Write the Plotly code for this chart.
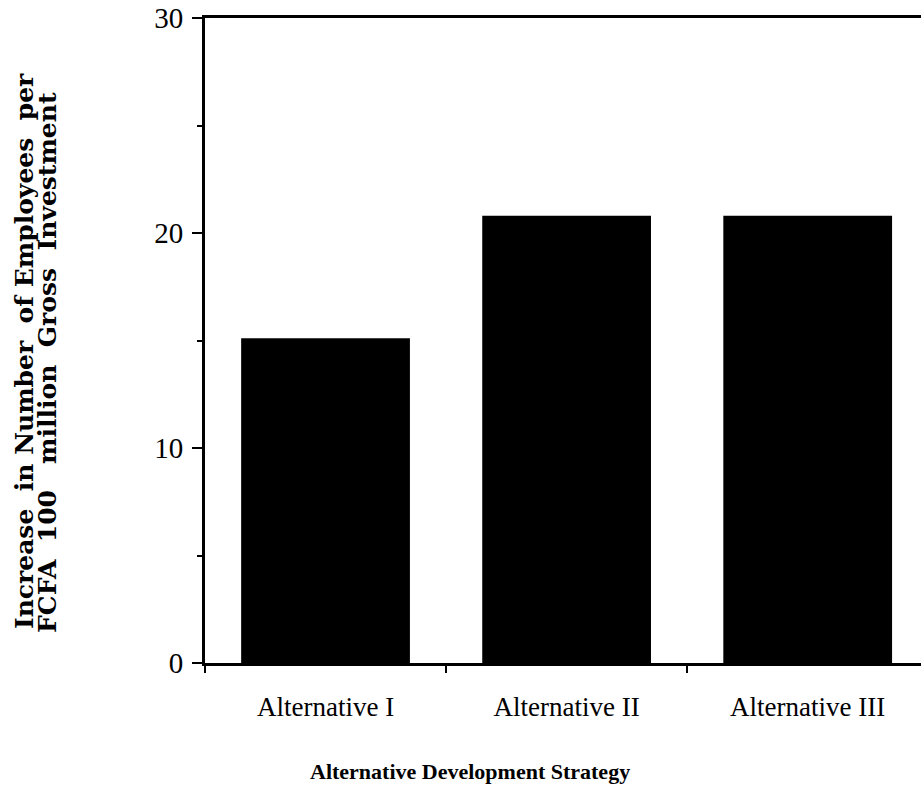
import plotly.graph_objects as go

categories = ["Alternative I", "Alternative II", "Alternative III"]
values = [15.1, 20.8, 20.8]
y_ticks = [0, 10, 20, 30]

W, H = 921, 794
L, R, T, B = 205, 921, 18, 663

def px_x(px):
    return (px - L) / (R - L)

def px_y(py):
    return (B - py) / (B - T)

fig = go.Figure()
fig.add_trace(go.Bar(x=categories, y=values, marker=dict(color="black", line=dict(width=0)),
                     width=0.7))

fig.update_layout(
    width=W, height=H,
    margin=dict(l=L, r=W - R, t=T, b=H - B, autoexpand=False),
    plot_bgcolor="white", paper_bgcolor="white",
    showlegend=False,
    font=dict(family="Liberation Serif", color="black", size=20),
)
fig.update_xaxes(
    range=[-0.5, 2.47], automargin=False,
    showline=True, linecolor="black", linewidth=3, mirror=True,
    ticks="outside", tickson="boundaries", ticklen=7, tickwidth=2, tickcolor="black",
    ticklabelstandoff=18,
    tickfont=dict(family="Liberation Serif", size=27),
    showgrid=False, zeroline=False,
)
fig.update_yaxes(
    range=[0, 30], automargin=False, tickvals=y_ticks, ticktext=[str(v) for v in y_ticks],
    showline=True, linecolor="black", linewidth=3,
    ticks="outside", ticklen=10, tickwidth=2, tickcolor="black",
    minor=dict(dtick=5, ticks="outside", ticklen=5, tickwidth=2, tickcolor="black", showgrid=False),
    ticklabelstandoff=3, ticklabeloverflow="allow",
    tickfont=dict(family="Liberation Serif", size=29),
    showgrid=False, zeroline=False,
)

fig.add_annotation(
    text="Increase  in Number  of Employees  per",
    xref="paper", yref="paper", x=px_x(24), y=px_y(351), xanchor="center", yanchor="middle",
    textangle=-90, showarrow=False,
    font=dict(family="DejaVu Serif", size=25, color="black", weight="bold"),
)
fig.add_annotation(
    text="FCFA  100   million  Gross  Investment",
    xref="paper", yref="paper", x=px_x(47), y=px_y(363), xanchor="center", yanchor="middle",
    textangle=-90, showarrow=False,
    font=dict(family="DejaVu Serif", size=25, color="black", weight="bold"),
)
fig.add_annotation(
    text="<b>Alternative Development Strategy</b>",
    xref="paper", yref="paper", x=px_x(470), y=px_y(771), xanchor="center", yanchor="middle",
    showarrow=False,
    font=dict(family="Liberation Serif", size=22, color="black"),
)

fig.write_html("out.html", config={"displayModeBar": False},
               post_script="document.body.style.margin='0';")
